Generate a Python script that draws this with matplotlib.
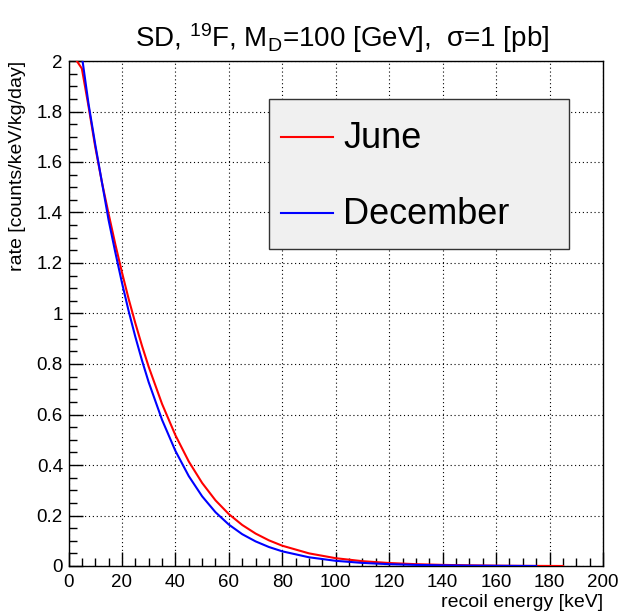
import matplotlib
matplotlib.use("Agg")
import matplotlib.pyplot as plt
from matplotlib.patches import Rectangle
from matplotlib.lines import Line2D
from matplotlib.ticker import MultipleLocator, FuncFormatter

plt.rcParams["font.family"] = ["Liberation Sans", "DejaVu Sans"]
plt.rcParams["mathtext.fontset"] = "custom"
plt.rcParams["mathtext.rm"] = "Liberation Sans"
plt.rcParams["mathtext.it"] = "Liberation Sans:italic"
plt.rcParams["mathtext.bf"] = "Liberation Sans:bold"

# Differential rate vs. recoil energy (keV), counts/keV/kg/day
energy_june = [0, 2.5, 5, 7.5, 10, 12.5, 15, 17.5, 20, 22.5, 25, 27.5, 30,
               35, 40, 45, 50, 55, 60, 65, 70, 75, 80, 90, 100, 110, 120,
               130, 140, 150, 160, 170, 180, 185]
rate_june = [2.04, 2.01, 1.97, 1.82, 1.66, 1.52, 1.395, 1.275, 1.163, 1.058,
             0.962, 0.872, 0.789, 0.642, 0.518, 0.414, 0.329, 0.260, 0.2055,
             0.1625, 0.1285, 0.1016, 0.0803, 0.050, 0.0309, 0.0191, 0.0118,
             0.0072, 0.0044, 0.0026, 0.0014, 0.0006, 0.0002, 0.0]

energy_december = [0, 2.5, 5, 7.5, 10, 12.5, 15, 17.5, 20, 22.5, 25, 27.5,
                   30, 35, 40, 45, 50, 55, 60, 65, 70, 75, 80, 90, 100, 110,
                   120, 130, 140, 150, 160, 170, 175]
rate_december = [2.44, 2.22, 2.02, 1.83, 1.67, 1.52, 1.37, 1.243, 1.122,
                 1.010, 0.908, 0.814, 0.728, 0.579, 0.456, 0.356, 0.276,
                 0.213, 0.164, 0.126, 0.0975, 0.0752, 0.058, 0.0345, 0.0205,
                 0.0122, 0.0072, 0.0043, 0.0026, 0.0014, 0.0007, 0.0002, 0.0]

series_labels = ["June", "December"]
series_colors = ["#ff0000", "#0000ff"]

W, H = 619, 612
fig = plt.figure(figsize=(W / 100, H / 100), dpi=100)
fig.patch.set_facecolor("white")

left_px, right_px, top_px, bottom_px = 68.5, 603, 61, 566
ax = fig.add_axes([left_px / W, (H - bottom_px) / H,
                   (right_px - left_px) / W, (bottom_px - top_px) / H])

ax.plot(energy_june, rate_june, color=series_colors[0], lw=1.5, zorder=3)
ax.plot(energy_december, rate_december, color=series_colors[1], lw=1.5, zorder=4)

ax.set_xlim(0, 200)
ax.set_ylim(0, 2)

ax.xaxis.set_major_locator(MultipleLocator(20))
ax.xaxis.set_minor_locator(MultipleLocator(5))
ax.yaxis.set_major_locator(MultipleLocator(0.2))
ax.yaxis.set_minor_locator(MultipleLocator(0.05))
ax.yaxis.set_major_formatter(FuncFormatter(lambda v, p: f"{v:g}"))
ax.xaxis.set_major_formatter(FuncFormatter(lambda v, p: f"{v:g}"))

ax.tick_params(which="major", direction="in", length=10, width=1,
               labelsize=13.5, top=False, right=False)
ax.tick_params(which="minor", direction="in", length=5.5, width=1,
               top=False, right=False)
ax.tick_params(axis="x", which="major", pad=6)
ax.tick_params(axis="y", which="major", pad=4)

ax.grid(True, which="major", color="black", linestyle=(0, (1, 2.5)), lw=0.8)
ax.set_axisbelow(False)
for sp in ax.spines.values():
    sp.set_linewidth(1)
    sp.set_color("black")

ax.set_xlabel("recoil energy [keV]", fontsize=14, ha="right", x=1.0, labelpad=2)
ax.set_ylabel("rate [counts/keV/kg/day]", fontsize=14, ha="right", y=1.0, labelpad=8)

fig.text(342 / W, 1 - 38 / H,
         r"SD, $^{19}$F, M$_{\mathrm{D}}$=100 [GeV],  σ=1 [pb]",
         ha="center", va="center", fontsize=20)

# Legend box
lx0, lx1, ly0, ly1 = 269, 569, 99, 249
fig.patches.append(Rectangle((lx0 / W, 1 - ly1 / H), (lx1 - lx0) / W, (ly1 - ly0) / H,
                             transform=fig.transFigure, facecolor="#f0f0f0",
                             edgecolor="#333333", lw=1, zorder=5))
for label, color, yc in zip(series_labels, series_colors, [137, 213]):
    fig.lines.append(Line2D([281 / W, 333 / W], [1 - yc / H, 1 - yc / H],
                            transform=fig.transFigure, color=color, lw=1.5, zorder=6))
    fig.text(343 / W, 1 - (yc + 1) / H, label, ha="left", va="center",
             fontsize=26, zorder=6)

fig.savefig("out.png", dpi=100)
